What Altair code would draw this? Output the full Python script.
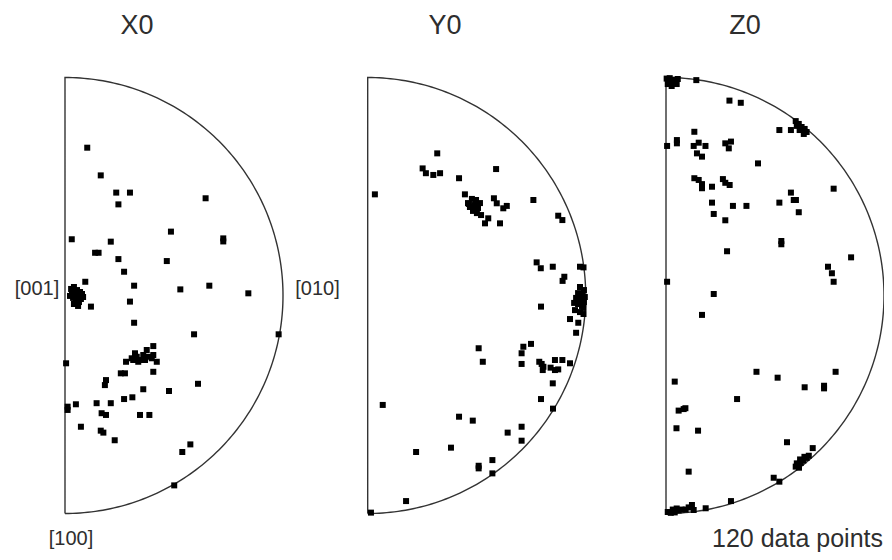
import altair as alt
import pandas as pd
import numpy as np

# ---------------- data (unit semicircle coordinates) ----------------
panels = ["X0", "Y0", "Z0"]

x0_x = [0.102, 0.164, 0.235, 0.298, 0.245, 0.645, 0.486, 0.031, 0.210, 0.726, 0.726, 0.138, 0.154, 0.245,
        0.467, 0.271, 0.093, 0.317, 0.529, 0.662, 0.841,
        0.028, 0.041, 0.055, 0.069, 0.032, 0.046, 0.060, 0.078, 0.037, 0.050, 0.064, 0.073, 0.041, 0.060,
        0.083, 0.023,
        0.119, 0.298, 0.317, 0.592, 0.980, 0.005, 0.405,
        0.280, 0.306, 0.321, 0.329, 0.344, 0.359, 0.375, 0.382, 0.398, 0.405, 0.421, 0.336, 0.313, 0.367,
        0.405, 0.256, 0.275, 0.188, 0.183, 0.359, 0.477, 0.610, 0.012, 0.012, 0.050, 0.145, 0.210, 0.271,
        0.309, 0.168, 0.188, 0.344, 0.387, 0.073, 0.164, 0.176, 0.228, 0.575, 0.538, 0.501]
x0_y = [0.678, 0.551, 0.472, 0.472, 0.418, 0.446, 0.293, 0.258, 0.247, 0.262, 0.248, 0.196, 0.196, 0.167,
        0.158, 0.109, 0.063, 0.045, 0.028, 0.045, 0.010,
        0.030, 0.039, 0.025, 0.016, 0.011, 0.002, -0.002, 0.007, -0.011, -0.021, -0.030, -0.016, -0.039,
        -0.048, -0.007, -0.002,
        -0.051, -0.028, -0.125, -0.178, -0.178, -0.311, -0.232,
        -0.304, -0.288, -0.265, -0.281, -0.296, -0.273, -0.250, -0.281, -0.288, -0.273, -0.304, -0.304,
        -0.296, -0.296,
        -0.350, -0.357, -0.357, -0.388, -0.411, -0.430, -0.438, -0.405, -0.510, -0.525, -0.499, -0.494,
        -0.494, -0.475, -0.467, -0.540, -0.548, -0.548, -0.548, -0.602, -0.620, -0.629, -0.664, -0.683,
        -0.718, -0.871]

y0_x = [0.319, 0.252, 0.267, 0.301, 0.332, 0.419, 0.589, 0.033, 0.446,
        0.460, 0.478, 0.497, 0.515, 0.469, 0.488, 0.506, 0.483, 0.501, 0.520, 0.464,
        0.538, 0.553, 0.607, 0.579, 0.592, 0.622, 0.638, 0.760, 0.874, 0.893, 0.775, 0.794, 0.849, 0.894,
        0.902, 0.974, 0.990,
        0.974, 0.992, 0.965, 0.983, 0.996, 0.956, 0.974, 0.992, 0.965, 0.983, 0.990, 0.951, 0.974, 0.990,
        0.947,
        0.795, 0.928, 0.966, 0.956, 0.509, 0.528, 0.714, 0.706, 0.749, 0.706, 0.787, 0.798, 0.803, 0.806,
        0.839, 0.859, 0.874, 0.859, 0.893, 0.928, 0.849, 0.795, 0.850, 0.069, 0.419, 0.482, 0.706, 0.642,
        0.706, 0.222, 0.382, 0.509, 0.509, 0.572, 0.572, 0.176, 0.015]
y0_y = [0.652, 0.583, 0.561, 0.553, 0.561, 0.538, 0.580, 0.464, 0.464,
        0.424, 0.443, 0.438, 0.424, 0.406, 0.415, 0.401, 0.388, 0.378, 0.369, 0.420,
        0.331, 0.354, 0.331, 0.446, 0.423, 0.400, 0.411, 0.438, 0.366, 0.346, 0.152, 0.125, 0.132, 0.067,
        0.086, 0.132, 0.129,
        0.039, 0.025, 0.011, 0.002, -0.007, -0.011, -0.021, -0.030, -0.039, -0.048, -0.057, -0.067, -0.076,
        -0.085, -0.034,
        -0.051, -0.108, -0.125, -0.171, -0.242, -0.304, -0.235, -0.265, -0.222, -0.314, -0.304, -0.314,
        -0.342, -0.327, -0.331, -0.342, -0.339, -0.296, -0.296, -0.311, -0.403, -0.475, -0.519, -0.502,
        -0.556, -0.574, -0.602, -0.629, -0.666, -0.718, -0.698, -0.781, -0.793, -0.755, -0.816, -0.943,
        -0.996]

z0_x = [0.003, 0.017, 0.035, 0.054, 0.012, 0.031, 0.049, 0.008, 0.026,
        0.139, 0.291, 0.343,
        0.595, 0.609, 0.622, 0.636, 0.645, 0.613, 0.632, 0.600,
        0.520, 0.573, 0.130, 0.050, 0.050, 0.005, 0.127, 0.150, 0.181, 0.142, 0.165, 0.272, 0.298, 0.288,
        0.422, 0.130, 0.150, 0.165, 0.165, 0.211, 0.261, 0.272, 0.292, 0.769, 0.573, 0.586, 0.596, 0.520,
        0.609, 0.211, 0.307, 0.369, 0.219, 0.272, 0.529, 0.529, 0.280, 0.849, 0.743, 0.761, 0.769, 0.005,
        0.219, 0.165, 0.415, 0.512, 0.636, 0.725, 0.725, 0.778, 0.040, 0.326, 0.058, 0.081, 0.089, 0.048,
        0.147, 0.555, 0.673,
        0.595, 0.606, 0.618, 0.630, 0.645, 0.655, 0.600, 0.615, 0.635, 0.610,
        0.494, 0.520, 0.104, 0.298, 0.182, 0.119, 0.127,
        0.008, 0.022, 0.040, 0.058, 0.072, 0.090, 0.104, 0.031, 0.049, 0.017]
z0_y = [0.995, 0.997, 0.990, 0.993, 0.984, 0.979, 0.970, 0.970, 0.961,
        0.988, 0.894, 0.884,
        0.800, 0.787, 0.773, 0.764, 0.750, 0.759, 0.741, 0.778,
        0.759, 0.759, 0.751, 0.713, 0.698, 0.686, 0.686, 0.701, 0.686, 0.652, 0.637, 0.698, 0.706, 0.675,
        0.606, 0.538, 0.530, 0.492, 0.511, 0.499, 0.534, 0.517, 0.507, 0.490, 0.472, 0.438, 0.438, 0.426,
        0.382, 0.426, 0.411, 0.411, 0.374, 0.345, 0.250, 0.235, 0.203, 0.175, 0.132, 0.102, 0.063, 0.063,
        0.007, -0.089, -0.350, -0.377, -0.421, -0.414, -0.426, -0.350, -0.395, -0.475, -0.528, -0.521,
        -0.517, -0.609, -0.620, -0.673, -0.700,
        -0.785, -0.775, -0.768, -0.757, -0.745, -0.735, -0.770, -0.752, -0.740, -0.790,
        -0.836, -0.854, -0.808, -0.943, -0.976, -0.961, -0.984,
        -0.993, -0.997, -0.995, -0.986, -0.982, -0.982, -0.972, -0.982, -0.977, -0.993]

pole_labels = ["[001]", "[010]", "[100]"]
count_label = "120 data points"

# ---------------- layout (in units of the semicircle radius) ----------------
offset = {"X0": 0.0, "Y0": 1.3885, "Z0": 2.7569}
W, H = 876, 544
x_dom = [-0.26147, 3.75688]
y_dom = [-1.17661, 1.31881]

rows = []
for p, xs_, ys_ in zip(panels, [x0_x, y0_x, z0_x], [x0_y, y0_y, z0_y]):
    for a, b in zip(xs_, ys_):
        rows.append({"panel": p, "gx": a + offset[p], "gy": b})
pts = pd.DataFrame(rows)

# outline: straight edge then semicircular arc
theta = np.linspace(90, -90, 181)
frows = []
for p in panels:
    k = 0
    frows.append({"panel": p, "gx": offset[p], "gy": -1.0, "ord": k}); k += 1
    for t in theta:
        frows.append({"panel": p, "gx": offset[p] + np.cos(np.radians(t)),
                      "gy": np.sin(np.radians(t)), "ord": k}); k += 1
frame = pd.DataFrame(frows)

xs = alt.Scale(domain=x_dom, nice=False, zero=False)
ys = alt.Scale(domain=y_dom, nice=False, zero=False)

outline = alt.Chart(frame).mark_line(color="#333333", strokeWidth=1.4).encode(
    x=alt.X("gx:Q", scale=xs, axis=None),
    y=alt.Y("gy:Q", scale=ys, axis=None),
    detail="panel:N",
    order="ord:Q",
)

points = alt.Chart(pts).mark_point(shape="square", filled=True, size=36, color="#000000", opacity=1).encode(
    x=alt.X("gx:Q", scale=xs, axis=None),
    y=alt.Y("gy:Q", scale=ys, axis=None),
)

FONT = "Liberation Sans"
TXT = "#2e2e2e"


def label(text, x, y, size, align="center"):
    return alt.Chart(pd.DataFrame({"t": [text]})).mark_text(
        font=FONT, fontSize=size, color=TXT, align=align, baseline="alphabetic",
    ).encode(text="t:N", x=alt.value(x), y=alt.value(y))


texts = [
    label(panels[0], 129, 26, 27),
    label(panels[1], 437, 26, 27),
    label(panels[2], 737, 26, 27),
    label(pole_labels[0], 29, 287, 20),
    label(pole_labels[1], 309.5, 287, 20),
    label(pole_labels[2], 63, 537, 20),
    label(count_label, 875, 539, 25, align="right"),
]

chart = alt.layer(outline, points, *texts).properties(
    width=W, height=H, autosize=alt.AutoSizeParams(type="none"), padding=0,
).configure(background="white", view=alt.ViewConfig(stroke=None))

chart.save("out.html", embed_options={"renderer": "svg", "actions": False})
